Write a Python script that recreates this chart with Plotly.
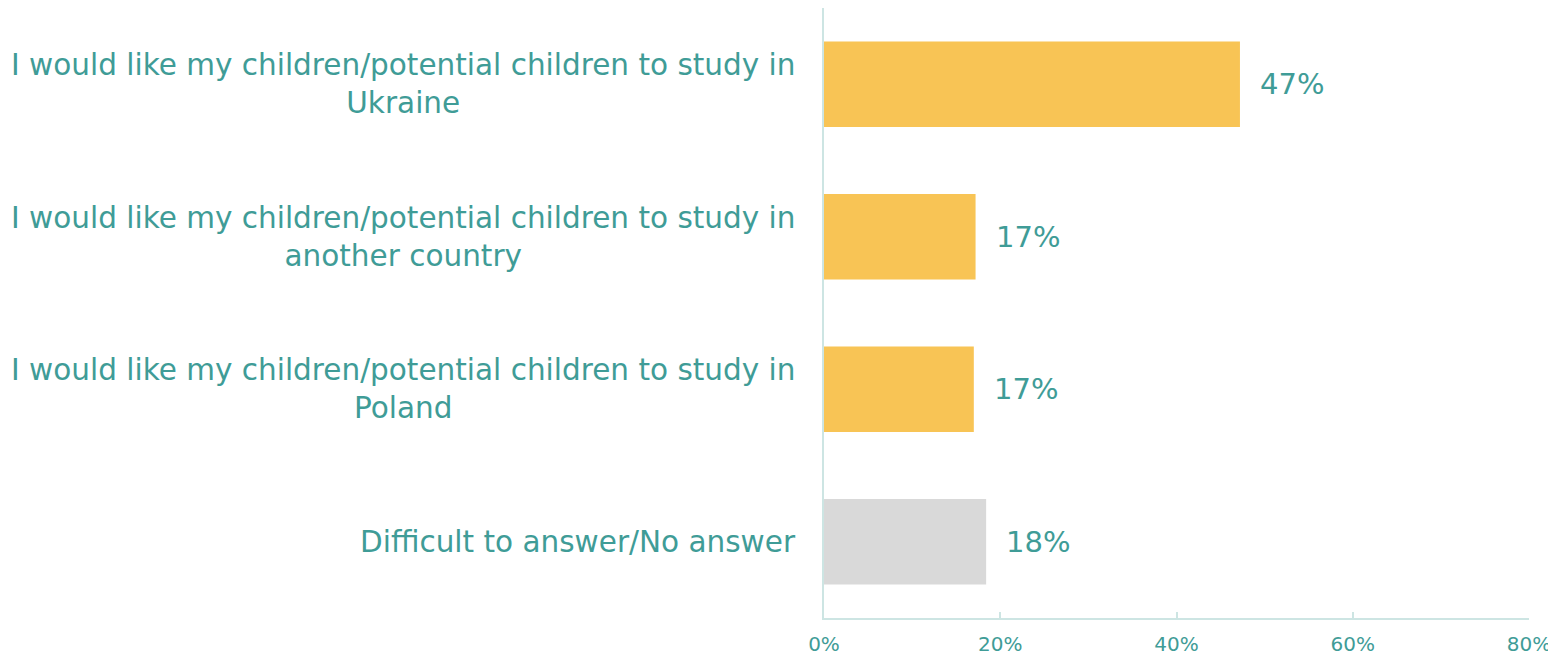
import plotly.graph_objects as go

categories = [
    "I would like my children/potential children to study in<br>Ukraine",
    "I would like my children/potential children to study in<br>another country",
    "I would like my children/potential children to study in<br>Poland",
    "Difficult to answer/No answer",
]
values = [47.2, 17.2, 17.0, 18.4]
value_labels = ["47%", "17%", "17%", "18%"]
bar_colors = ["#F8C455", "#F8C455", "#F8C455", "#D9D9D9"]
tick_vals = [0, 20, 40, 60, 80]
tick_text = ["0%", "20%", "40%", "60%", "80%"]

TEXT = "#3F9C97"
AXIS = "#CDE5E3"
FONT = "DejaVu Sans"

fig = go.Figure()
fig.add_trace(go.Bar(
    x=values, y=categories, orientation="h",
    marker=dict(color=bar_colors, line=dict(width=0)),
    width=0.56, hoverinfo="skip",
))

annotations = []
for cat, v, lab in zip(categories, values, value_labels):
    annotations.append(dict(
        x=v, y=cat, xref="x", yref="y", text=lab, showarrow=False,
        xanchor="left", yanchor="middle", xshift=18,
        font=dict(family=FONT, size=29, color=TEXT),
    ))
    annotations.append(dict(
        x=0, y=cat, xref="paper", yref="y", text=cat, showarrow=False,
        xanchor="right", yanchor="middle", xshift=-26, align="center",
        font=dict(family=FONT, size=29.5, color=TEXT),
    ))

fig.update_layout(
    width=1556, height=657,
    margin=dict(l=816, r=35, t=0, b=47),
    plot_bgcolor="white", paper_bgcolor="white",
    showlegend=False,
    annotations=annotations,
    xaxis=dict(
        range=[0, 80], tickvals=tick_vals, ticktext=tick_text,
        showgrid=False, zeroline=False, showline=True, linecolor=AXIS, linewidth=2,
        ticks="inside", ticklen=6, tickcolor=AXIS, tickwidth=2,
        tickfont=dict(family=FONT, size=20, color=TEXT),
        ticklabelstandoff=7,
        fixedrange=True,
    ),
    yaxis=dict(
        range=[3.5, -0.5], autorange=False,
        showticklabels=False, showgrid=False, zeroline=False,
        showline=True, linecolor=AXIS, linewidth=2, ticks="",
        fixedrange=True,
    ),
)

fig.write_html("out.html")
